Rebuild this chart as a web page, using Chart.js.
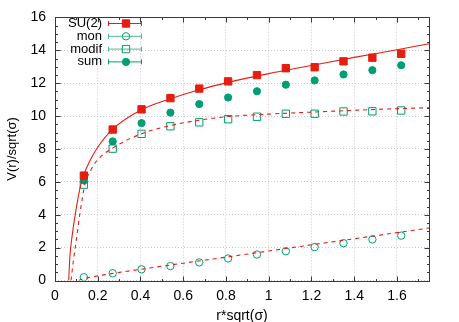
<!DOCTYPE html>
<html><head><meta charset="utf-8">
<script src="https://cdn.jsdelivr.net/npm/chart.js@4.4.0/dist/chart.umd.min.js"></script>
<style>html,body{margin:0;padding:0;background:#fff}canvas{display:block}</style>
</head><body>
<canvas id="c" width="459" height="322"></canvas>
<script>
// ---- data ----
const rValues = [0.135,0.27,0.405,0.54,0.675,0.81,0.945,1.08,1.215,1.35,1.485,1.62];
const su2   = [6.38,9.18,10.41,11.09,11.67,12.11,12.49,12.91,12.97,13.33,13.55,13.79];
const mon   = [0.20,0.44,0.68,0.88,1.10,1.34,1.58,1.78,2.03,2.27,2.50,2.73];
const modif = [5.83,8.02,8.92,9.38,9.62,9.81,9.96,10.14,10.14,10.28,10.29,10.34];
const sum   = [6.08,8.46,9.57,10.21,10.73,11.13,11.51,11.91,12.17,12.53,12.79,13.09];

// fit curves
const su2FitR = [0.064,0.07,0.08,0.097,0.12,0.135,0.164,0.2,0.27,0.4,0.54,0.675,0.81,1.0,1.2,1.4,1.6,1.75];
const su2FitV = [0,1.5,2.7,4.2,5.8,6.45,7.3,8.1,9.2,10.35,11.05,11.6,12.05,12.58,13.07,13.57,14.03,14.4];
const modifFitR = [0.075,0.086,0.098,0.117,0.14,0.165,0.2,0.27,0.4,0.54,0.675,0.81,1.0,1.2,1.4,1.6,1.75];
const modifFitV = [0,1.2,2.3,4.1,5.85,6.65,7.35,8.05,8.9,9.42,9.75,9.97,10.12,10.24,10.35,10.45,10.51];
const monFitR = [0.11,0.13,0.2,0.4,0.8,1.2,1.6,1.75];
const monFitV = [0,0.09,0.28,0.68,1.42,2.17,2.91,3.19];

const seriesNames = ['SU(2)','mon','modif','sum'];
const xTickValues = [0,0.2,0.4,0.6,0.8,1.0,1.2,1.4,1.6];
const xTickLabels = ['0','0.2','0.4','0.6','0.8','1','1.2','1.4','1.6'];
const yTickValues = [0,2,4,6,8,10,12,14,16];
const yTickLabels = ['0','2','4','6','8','10','12','14','16'];

const RED = '#e51e10', GREEN = '#009e73';
const FONT = '"Liberation Sans", Arial, Helvetica, sans-serif';

const pts = (xs, ys) => xs.map((x, i) => ({x: x, y: ys[i]}));

const markerStyles = [
  {pointStyle:'rect', radius:5.2, borderWidth:1, fill:RED, stroke:RED, line:RED},
  {pointStyle:'circle', radius:3.7, borderWidth:1, fill:'rgba(0,0,0,0)', stroke:GREEN, line:'#4dbb98'},
  {pointStyle:'rect', radius:5.2, borderWidth:1, fill:'rgba(0,0,0,0)', stroke:GREEN, line:'#4dbb98'},
  {pointStyle:'circle', radius:3.6, borderWidth:1, fill:GREEN, stroke:GREEN, line:GREEN}
];
const seriesData = [su2, mon, modif, sum];

const datasets = [
  {label:'fitSU2', data:pts(su2FitR, su2FitV), showLine:true, borderColor:RED, borderWidth:1.1, pointRadius:0, cubicInterpolationMode:'monotone', order:0},
  {label:'fitModif', data:pts(modifFitR, modifFitV), showLine:true, borderColor:RED, borderWidth:1.1, borderDash:[4,4], pointRadius:0, cubicInterpolationMode:'monotone', order:0},
  {label:'fitMon', data:pts(monFitR, monFitV), showLine:true, borderColor:RED, borderWidth:1.1, borderDash:[4,4], pointRadius:0, cubicInterpolationMode:'monotone', order:0}
];
seriesNames.forEach((n, i) => {
  const m = markerStyles[i];
  datasets.push({label:n, data:pts(rValues, seriesData[i]), showLine:false,
    pointStyle:m.pointStyle, pointRadius:m.radius, pointBorderWidth:m.borderWidth,
    pointBackgroundColor:m.fill, pointBorderColor:m.stroke, order:1+i});
});

const framePlugin = {
  id:'frame',
  afterDatasetsDraw(chart){
    const {ctx, chartArea:a, scales:{x, y}} = chart;
    ctx.save();
    ctx.strokeStyle = '#3a3a3a'; ctx.lineWidth = 1;
    const L = Math.round(a.left)+0.5, R = Math.round(a.right)+0.5, T = Math.round(a.top)+0.5, B = Math.round(a.bottom)+0.5;
    ctx.strokeRect(L, T, R-L, B-T);
    ctx.beginPath();
    for (let k = 0; k <= 17; k++) {
      const v = k*0.1; const px = Math.round(x.getPixelForValue(v))+0.5;
      const len = (k % 2 === 0) ? 5 : 2.5;
      ctx.moveTo(px, B); ctx.lineTo(px, B-len);
      ctx.moveTo(px, T); ctx.lineTo(px, T+len);
    }
    for (let k = 0; k <= 32; k++) {
      const v = k*0.5; const py = Math.round(y.getPixelForValue(v))+0.5;
      const len = (k % 4 === 0) ? 5 : 2.5;
      ctx.moveTo(L, py); ctx.lineTo(L+len, py);
      ctx.moveTo(R, py); ctx.lineTo(R-len, py);
    }
    ctx.stroke();
    ctx.restore();
  },
  afterDraw(chart){
    const ctx = chart.ctx;
    ctx.save();
    ctx.font = '13px ' + FONT;
    ctx.textAlign = 'right'; ctx.textBaseline = 'middle';
    seriesNames.forEach((n, i) => {
      const m = markerStyles[i];
      const yy = 23.5 + i*12.8;
      ctx.fillStyle = '#000';
      ctx.fillText(n, 102, yy);
      ctx.strokeStyle = m.line; ctx.lineWidth = 1;
      ctx.beginPath();
      ctx.moveTo(108.5, yy); ctx.lineTo(141.5, yy);
      ctx.moveTo(108.5, yy-2.5); ctx.lineTo(108.5, yy+2.5);
      ctx.moveTo(141.5, yy-2.5); ctx.lineTo(141.5, yy+2.5);
      ctx.stroke();
      ctx.fillStyle = m.fill; ctx.strokeStyle = m.stroke;
      Chart.helpers.drawPoint(ctx, {pointStyle:m.pointStyle, radius:m.radius, borderWidth:m.borderWidth, rotation:0}, 126, yy);
    });
    ctx.restore();
  }
};

new Chart(document.getElementById('c'), {
  type:'scatter',
  data:{datasets},
  options:{
    responsive:false, animation:false, devicePixelRatio:1,
    layout:{padding:{top:13, right:30, left:0, bottom:0}},
    plugins:{legend:{display:false}, tooltip:{enabled:false}},
    scales:{
      x:{type:'linear', min:0, max:1.75,
        afterBuildTicks(s){ s.ticks = xTickValues.map(v => ({value:v})); },
        afterFit(s){ s.height = 41.5; },
        grid:{color:'#c8c8c8', lineWidth:1, drawTicks:false},
        border:{display:false, dash:[1,2]},
        ticks:{padding:7, color:'#000', font:{family:FONT, size:14}, maxRotation:0, autoSkip:false,
          callback:(v, i) => xTickLabels[i]},
        title:{display:true, text:'r*sqrt(σ)', color:'#000', font:{family:FONT, size:14}, padding:{top:0, bottom:-3}}
      },
      y:{type:'linear', min:0, max:16,
        afterBuildTicks(s){ s.ticks = yTickValues.map(v => ({value:v})); },
        afterFit(s){ s.width = 55; },
        grid:{color:'#c8c8c8', lineWidth:1, drawTicks:false},
        border:{display:false, dash:[1,2]},
        ticks:{padding:9, color:'#000', font:{family:FONT, size:14}, autoSkip:false,
          callback:(v, i) => yTickLabels[i]},
        title:{display:true, text:'V(r)/sqrt(σ)', color:'#000', font:{family:FONT, size:13}, padding:{top:5, bottom:0}}
      }
    }
  },
  plugins:[framePlugin]
});
</script>
</body></html>
